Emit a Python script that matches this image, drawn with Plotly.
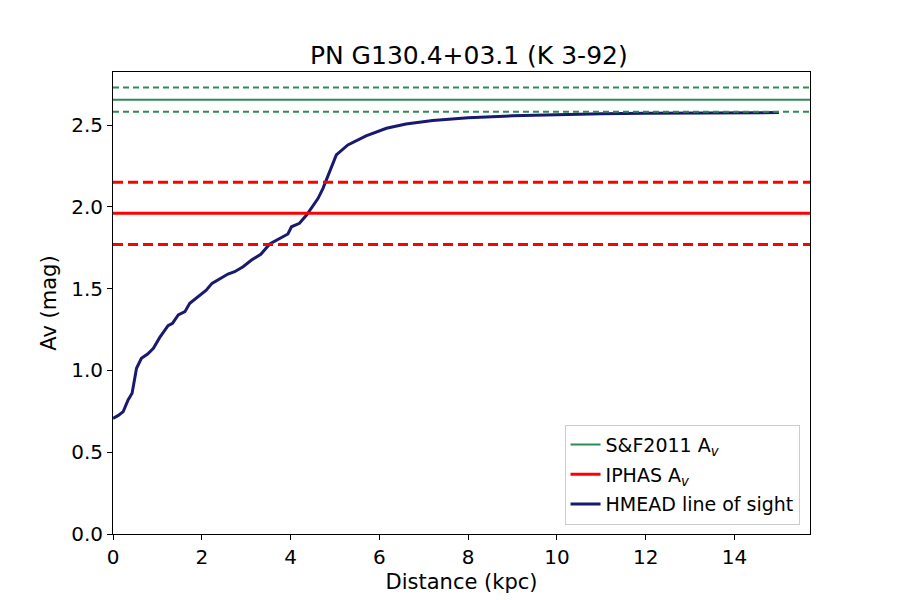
import plotly.graph_objects as go

# HMEAD line of sight extinction curve
distance_kpc = [0, 0.12, 0.23, 0.34, 0.43, 0.53, 0.64, 0.78, 0.91, 1.05, 1.24, 1.34, 1.47,
                1.62, 1.73, 1.9, 2.1, 2.23, 2.44, 2.59, 2.74, 2.93, 3.12, 3.33, 3.53, 3.83,
                3.94, 4.02, 4.2, 4.36, 4.62, 4.73, 5.03, 5.29, 5.7, 6.16, 6.6, 7.2, 7.6,
                8.0, 9.0, 10.0, 11.0, 12.0, 13.0, 14.0, 15.0]
av_mag = [0.707, 0.725, 0.748, 0.819, 0.86, 1.013, 1.074, 1.10, 1.135, 1.20, 1.273, 1.288,
          1.339, 1.359, 1.41, 1.445, 1.49, 1.532, 1.567, 1.589, 1.603, 1.634, 1.675, 1.71,
          1.773, 1.817, 1.834, 1.878, 1.899, 1.95, 2.052, 2.113, 2.317, 2.378, 2.433, 2.48,
          2.506, 2.528, 2.538, 2.545, 2.556, 2.564, 2.569, 2.572, 2.574, 2.575, 2.576]

sf_av, sf_err = 2.655, 0.074
iphas_av, iphas_err = 1.96, 0.19

x_ticks = [0, 2, 4, 6, 8, 10, 12, 14]
y_ticks = [0.0, 0.5, 1.0, 1.5, 2.0, 2.5]

fig = go.Figure()

# reference levels
fig.add_hline(y=sf_av, line=dict(color='seagreen', width=2))
fig.add_hline(y=sf_av + sf_err, line=dict(color='seagreen', width=2, dash='6px,4px'))
fig.add_hline(y=sf_av - sf_err, line=dict(color='seagreen', width=2, dash='6px,4px'))
fig.add_hline(y=iphas_av, line=dict(color='red', width=3))
fig.add_hline(y=iphas_av + iphas_err, line=dict(color='red', width=3, dash='10px,5px'))
fig.add_hline(y=iphas_av - iphas_err, line=dict(color='red', width=3, dash='10px,5px'))

# legend entries for the levels
fig.add_trace(go.Scatter(x=[None], y=[None], mode='lines', name='S&F2011 A<sub><i>v</i></sub>',
                         legendgroup='sf', line=dict(color='seagreen', width=2)))
fig.add_trace(go.Scatter(x=[None], y=[None], mode='lines', name='IPHAS A<sub><i>v</i></sub>',
                         legendgroup='iphas', line=dict(color='red', width=3)))
fig.add_trace(go.Scatter(x=distance_kpc, y=av_mag, mode='lines', name='HMEAD line of sight',
                         legendgroup='hmead', line=dict(color='midnightblue', width=3)))

axis_style = dict(showline=True, linecolor='black', linewidth=1, mirror=True,
                  ticks='outside', ticklen=5, tickcolor='black', showgrid=False,
                  zeroline=False, tickfont=dict(size=20))

fig.update_xaxes(range=[0, 15.7], tickvals=x_ticks,
                 title=dict(text='Distance (kpc)', font=dict(size=21), standoff=6), **axis_style)
fig.update_yaxes(range=[0, 2.824], tickvals=y_ticks, tickformat='.1f',
                 title=dict(text='Av (mag)', font=dict(size=21), standoff=8), **axis_style)

fig.update_layout(
    width=900, height=600,
    margin=dict(l=105, r=98, t=64, b=74),
    plot_bgcolor='white', paper_bgcolor='white',
    font=dict(family='DejaVu Sans', color='black'),
    title=dict(text='PN G130.4+03.1 (K 3-92)', x=0.512, xanchor='center',
               y=0.922, yanchor='middle', font=dict(size=25)),
    legend=dict(x=0.985, y=0.02, xanchor='right', yanchor='bottom',
                tracegroupgap=2, bgcolor='rgba(255,255,255,0.8)', bordercolor='#cccccc',
                borderwidth=1, font=dict(size=19)),
)

fig.write_html("out.html")
